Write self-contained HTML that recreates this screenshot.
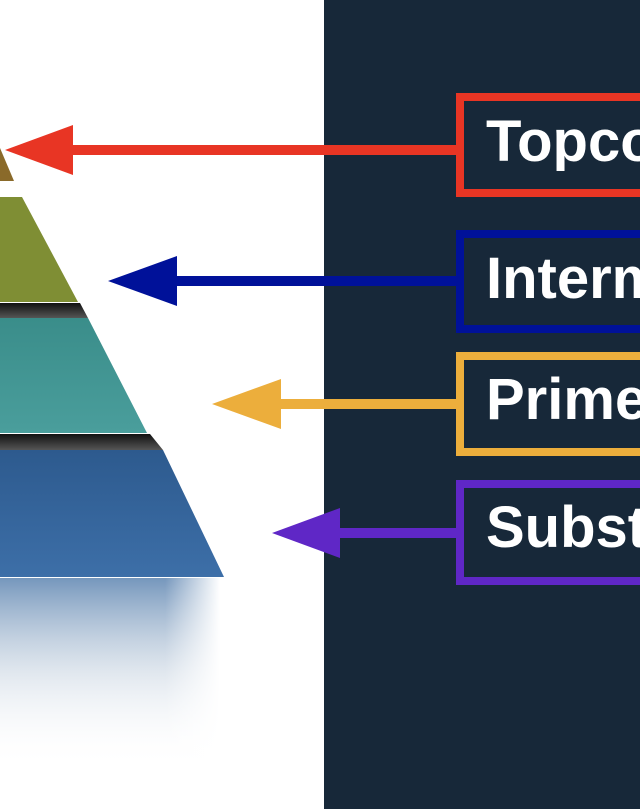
<!DOCTYPE html>
<html><head><style>
html,body{margin:0;padding:0}
body{width:640px;height:809px;overflow:hidden;position:relative;background:#fff;font-family:"Liberation Sans",sans-serif}
.wrap{position:absolute;left:0;top:0;width:640px;height:809px;overflow:hidden}
.panel{position:absolute;left:324px;top:0;width:316px;height:809px;background:#172839}
.box{position:absolute;left:456px;width:184px;border:8px solid;border-right:none;box-sizing:border-box}
.t{position:absolute;left:486px;width:154px;overflow:hidden;color:#fff;font-weight:bold;font-size:58px;line-height:1;white-space:nowrap}
svg{position:absolute;left:0;top:0}
</style></head><body>
<div class="wrap">
<div class="panel"></div>
<svg width="640" height="809">
<defs>
<linearGradient id="fade" x1="0" y1="0" x2="0" y2="1">
<stop offset="0" stop-color="#3a6aa0" stop-opacity="0.7"/>
<stop offset="0.5" stop-color="#9ab0c8" stop-opacity="0.3"/>
<stop offset="1" stop-color="#fff" stop-opacity="0"/>
</linearGradient>
<linearGradient id="fadex" x1="0" y1="0" x2="1" y2="0">
<stop offset="0" stop-color="#fff" stop-opacity="0"/>
<stop offset="0.75" stop-color="#fff" stop-opacity="0"/>
<stop offset="1" stop-color="#fff" stop-opacity="1"/>
</linearGradient>
<linearGradient id="bl" x1="0" y1="0" x2="0" y2="1"><stop offset="0" stop-color="#2d5a8e"/><stop offset="1" stop-color="#3d6fa8"/></linearGradient>
<linearGradient id="te" x1="0" y1="0" x2="0" y2="1"><stop offset="0" stop-color="#3a8d8a"/><stop offset="1" stop-color="#4a9e9c"/></linearGradient>
<linearGradient id="sh" x1="0" y1="0" x2="0" y2="1"><stop offset="0" stop-color="#111"/><stop offset="1" stop-color="#555"/></linearGradient>
</defs>
<rect x="0" y="578" width="220" height="190" fill="url(#fade)"/>
<rect x="0" y="578" width="220" height="190" fill="url(#fadex)"/>
<polygon points="0,434 150,434 163,450 0,450" fill="url(#sh)"/>
<polygon points="0,450 163,450 224,577 0,577" fill="url(#bl)"/>
<polygon points="0,303 80,303 88,318 0,318" fill="url(#sh)"/>
<polygon points="0,318 88,318 147,433 0,433" fill="url(#te)"/>
<polygon points="0,197 22,197 78,302 0,302" fill="#7f8e34"/>
<polygon points="0,148 14,181 0,181" fill="#8a6a2a"/>
<rect x="70" y="145" width="390" height="10" fill="#e83524"/>
<polygon points="5,150 73,125 73,175" fill="#e83524"/>
<rect x="175" y="276" width="285" height="10" fill="#001199"/>
<polygon points="108,281 177,256 177,306" fill="#001199"/>
<rect x="278" y="399" width="182" height="10" fill="#ecae3c"/>
<polygon points="212,404 281,379 281,429" fill="#ecae3c"/>
<rect x="338" y="528" width="122" height="10" fill="#5f27c6"/>
<polygon points="272,533 340,508 340,558" fill="#5f27c6"/>
</svg>
<div class="box" style="top:93px;height:104px;border-color:#e83524"></div>
<div class="box" style="top:230px;height:103px;border-color:#001199"></div>
<div class="box" style="top:352px;height:104px;border-color:#ecae3c"></div>
<div class="box" style="top:480px;height:105px;border-color:#5f27c6"></div>
<div class="t" style="top:113px">Topco</div>
<div class="t" style="top:250px">Intermediate</div>
<div class="t" style="top:371px">Prime</div>
<div class="t" style="top:499px">Substantial</div>
</div>
</body></html>
